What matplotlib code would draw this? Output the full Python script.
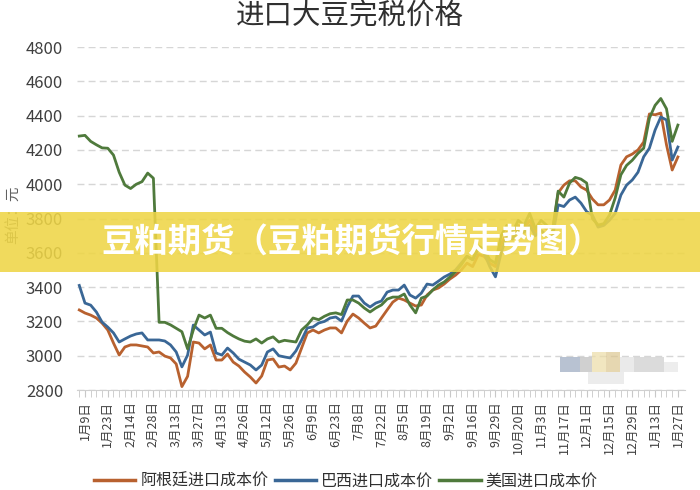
import matplotlib
matplotlib.use("Agg")
import matplotlib.pyplot as plt
from matplotlib.patches import Rectangle
from matplotlib.lines import Line2D

plt.rcParams['font.family'] = ['Noto Sans CJK SC', 'DejaVu Sans']

title = "进口大豆完税价格"
ylabel = "单位：元"
banner_text = "豆粕期货（豆粕期货行情走势图）"
series_names = ["阿根廷进口成本价", "巴西进口成本价", "美国进口成本价"]
tick_labels = ["1月9日", "1月23日", "2月14日", "2月28日", "3月13日", "3月27日", "4月13日",
               "4月26日", "5月12日", "5月26日", "6月9日", "6月23日", "7月8日", "7月22日",
               "8月5日", "8月19日", "9月2日", "9月16日", "9月29日", "10月20日", "11月3日",
               "11月17日", "12月1日", "12月15日", "12月29日", "1月13日", "1月27日"]

argentina = [3267, 3249, 3237, 3220, 3190, 3150, 3074, 3004, 3051, 3063,
             3063, 3057, 3051, 3016, 3022, 2998, 2987, 2952, 2820, 2880,
             3080, 3074, 3040, 3063, 2975, 2975, 3010, 2963, 2940, 2905,
             2876, 2841, 2882, 2975, 2981, 2934, 2940, 2917, 2957, 3045,
             3133, 3150, 3133, 3150, 3162, 3162, 3133, 3202, 3243, 3220,
             3190, 3162, 3173, 3220, 3267, 3313, 3336, 3325, 3307, 3290,
             3296, 3354, 3383, 3395, 3418, 3447, 3470, 3500, 3540, 3520,
             3590, 3580, 3540, 3520, 3650, 3720, 3700, 3760, 3740, 3790,
             3720, 3760, 3740, 3720, 3950, 3995, 4020, 4020, 3984, 3966,
             3914, 3880, 3880, 3908, 3966, 4112, 4160, 4176, 4200, 4246,
             4410, 4405, 4415, 4230, 4083, 4159]

brazil = [3410, 3307, 3295, 3255, 3196, 3167, 3133, 3080, 3098, 3115,
          3127, 3133, 3092, 3092, 3092, 3086, 3063, 3022, 2935, 3004,
          3179, 3150, 3121, 3138, 3016, 3004, 3045, 3016, 2980, 2963,
          2946, 2917, 2946, 3022, 3040, 3000, 2993, 2987, 3028, 3092,
          3162, 3168, 3191, 3200, 3220, 3226, 3202, 3284, 3348, 3348,
          3307, 3284, 3307, 3319, 3371, 3383, 3383, 3412, 3354, 3336,
          3365, 3418, 3412, 3435, 3459, 3476, 3500, 3540, 3580, 3560,
          3620, 3600, 3520, 3460, 3600, 3700, 3680, 3730, 3720, 3760,
          3700, 3730, 3700, 3690, 3880, 3870, 3908, 3925, 3890, 3840,
          3820, 3750, 3760, 3790, 3830, 3937, 3995, 4025, 4070, 4160,
          4210, 4316, 4392, 4375, 4141, 4217]

usa = [4281, 4285, 4250, 4230, 4212, 4210, 4170, 4070, 3995, 3975,
       4000, 4015, 4065, 4035, 3195, 3195, 3180, 3160, 3140, 3040,
       3150, 3237, 3220, 3237, 3160, 3160, 3135, 3115, 3098, 3085,
       3080, 3098, 3074, 3098, 3110, 3080, 3090, 3085, 3080, 3150,
       3180, 3220, 3210, 3230, 3245, 3250, 3240, 3325, 3325, 3307,
       3278, 3255, 3278, 3296, 3330, 3342, 3342, 3360, 3296, 3250,
       3336, 3348, 3383, 3412, 3430, 3459, 3490, 3530, 3580, 3560,
       3640, 3620, 3560, 3540, 3700, 3760, 3720, 3790, 3760, 3830,
       3740, 3790, 3760, 3730, 3960, 3925, 4007, 4040, 4030, 4007,
       3800, 3762, 3770, 3820, 3920, 4055, 4110, 4140, 4180, 4210,
       4385, 4460, 4500, 4440, 4250, 4345]

colors = ["#B8612F", "#3A6796", "#4F7A3C"]

fig = plt.figure(figsize=(7, 4.9), dpi=100)
ax = fig.add_axes([0.11, 0.204, 0.869, 0.700])

x = list(range(len(argentina)))
for vals, c, name in zip([argentina, brazil, usa], colors, series_names):
    ax.plot(x, vals, color=c, lw=2.0, label=name, solid_joinstyle='round')

ax.set_ylim(2800, 4800)
ax.set_xlim(-0.4, 106.3)
ax.set_yticks(range(2800, 4801, 200))
ax.tick_params(axis='y', length=0, labelsize=12, labelcolor='#404040', pad=10)
ax.grid(axis='y', color='#d6d6d6', lw=1, ls=(0, (5, 3)))
ax.set_axisbelow(True)

tick_pos = [1 + 4 * k for k in range(len(tick_labels))]
ax.set_xticks(tick_pos)
ax.set_xticklabels(tick_labels, rotation=90, fontsize=9, color='#404040')
ax.set_xticks(x, minor=True)
ax.tick_params(axis='x', which='both', length=5, color='#c8c8c8', direction='out', pad=3)

for s in ['top', 'right', 'left']:
    ax.spines[s].set_visible(False)
ax.spines['bottom'].set_color('#d0d0d0')

fig.text(0.5, 1 - 17 / 490, title, ha='center', va='center', fontsize=20.5, color='#303030')
fig.text(0.018, 1 - 215 / 490, ylabel, rotation=90, ha='center', va='center', fontsize=10.5, color='#606060')

handles = [Line2D([0], [0], color=c, lw=2.5) for c in colors]
fig.legend(handles, series_names, loc='upper center', bbox_to_anchor=(0.494, 0.064),
           ncol=3, frameon=False, fontsize=11.5, handlelength=2.6, columnspacing=0.4,
           handletextpad=0.3, labelcolor='#303030')

# watermark blocks (bottom right)
blocks = [(560, 357, 20, 15, '#9aa9c0'), (580, 357, 12, 15, '#bcbcbc'),
          (592, 352, 14, 20, '#ecdca6'), (606, 352, 14, 20, '#dcc690'),
          (620, 357, 14, 15, '#e2e2e2'), (634, 357, 30, 15, '#cdcdcd'),
          (664, 362, 14, 10, '#e6e6e6'), (588, 372, 36, 12, '#e4e4e4')]
for bx, by, bw, bh, bc in blocks:
    fig.patches.append(Rectangle((bx / 700, 1 - (by + bh) / 490), bw / 700, bh / 490,
                                 transform=fig.transFigure, color=bc, alpha=0.7, lw=0))

# banner overlay
fig.patches.append(Rectangle((0, 1 - 272 / 490), 1, 60 / 490, transform=fig.transFigure,
                             color='#EED546', alpha=0.88, lw=0, zorder=5))
fig.text(0.503, 1 - 243 / 490, banner_text, ha='center', va='center', fontsize=24,
         fontweight='bold', color='white', zorder=6)

fig.savefig('out.png', dpi=100)
